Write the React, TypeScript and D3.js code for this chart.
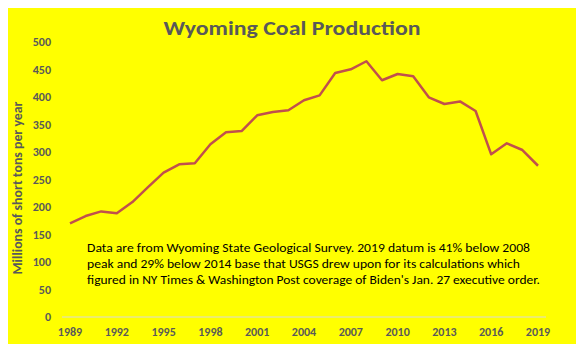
import React, { useEffect, useRef } from 'react'
import * as d3 from 'd3'

const years = d3.range(1989, 2020)
const production = [
  170.4, 183.6, 192, 188.5, 209, 236, 262.4, 277.6, 279.4, 314, 335.8, 338, 366.7, 372.7, 375.8,
  394, 403, 443.6, 450.3, 465, 430.4, 441.8, 437.6, 399.4, 387.3, 392, 374.5, 295.8, 315.8, 303.6,
  275,
]
const yTicks = [0, 50, 100, 150, 200, 250, 300, 350, 400, 450, 500]
const xTicks = [1989, 1992, 1995, 1998, 2001, 2004, 2007, 2010, 2013, 2016, 2019]
const note = [
  'Data are from Wyoming State Geological Survey. 2019 datum is 41% below 2008',
  'peak and 29% below 2014 base that USGS drew upon for its calculations which',
  "figured in NY Times & Washington Post coverage of Biden's Jan. 27 executive order.",
]
const noteWidths = [443, 433, 453]

const App = () => {
  const ref = useRef(null)

  useEffect(() => {
    const width = 584
    const height = 352
    const svg = d3.select(ref.current).attr('width', width).attr('height', height)
    svg.selectAll('*').remove()

    svg.append('rect').attr('width', width).attr('height', height).attr('fill', '#ffff00')

    const x = d3.scaleLinear().domain([1989, 2019]).range([70, 538])
    const y = d3.scaleLinear().domain([0, 500]).range([317, 42])
    const font = 'Calibri, Carlito, "Open Sans", sans-serif'

    // title
    svg
      .append('text')
      .attr('x', 292)
      .attr('y', 35)
      .attr('text-anchor', 'middle')
      .attr('font-family', font)
      .attr('font-weight', 'bold')
      .attr('font-size', 20)
      .attr('fill', '#595959')
      .attr('textLength', 257)
      .attr('lengthAdjust', 'spacingAndGlyphs')
      .text('Wyoming Coal Production')

    // y axis labels
    svg
      .append('g')
      .selectAll('text')
      .data(yTicks)
      .enter()
      .append('text')
      .attr('x', 51)
      .attr('y', (d) => y(d) + 4)
      .attr('text-anchor', 'end')
      .attr('font-family', font)
      .attr('font-weight', 'bold')
      .attr('font-size', 12)
      .attr('fill', '#595959')
      .text((d) => d)

    svg
      .append('text')
      .attr('transform', `translate(22,188) rotate(-90)`)
      .attr('text-anchor', 'middle')
      .attr('font-family', font)
      .attr('font-weight', 'bold')
      .attr('font-size', 13)
      .attr('fill', '#595959')
      .attr('textLength', 173)
      .attr('lengthAdjust', 'spacingAndGlyphs')
      .text('Millions of short tons per year')

    // baseline
    svg
      .append('line')
      .attr('x1', 62)
      .attr('x2', 546)
      .attr('y1', y(0))
      .attr('y2', y(0))
      .attr('stroke', '#d9d9d9')
      .attr('stroke-width', 1)

    // x axis labels
    svg
      .append('g')
      .selectAll('text')
      .data(xTicks)
      .enter()
      .append('text')
      .attr('x', (d) => x(d))
      .attr('y', 336)
      .attr('text-anchor', 'middle')
      .attr('font-family', font)
      .attr('font-weight', 'bold')
      .attr('font-size', 12)
      .attr('fill', '#595959')
      .text((d) => d)

    // line
    const line = d3
      .line<number>()
      .x((d, i) => x(years[i]))
      .y((d) => y(d))
    svg
      .append('path')
      .datum(production)
      .attr('d', line)
      .attr('fill', 'none')
      .attr('stroke', '#c0504d')
      .attr('stroke-width', 2.5)
      .attr('stroke-linejoin', 'round')

    // note
    svg
      .append('g')
      .selectAll('text')
      .data(note)
      .enter()
      .append('text')
      .attr('x', 87)
      .attr('y', (d, i) => 252 + i * 16)
      .attr('font-family', font)
      .attr('font-size', 13)
      .attr('fill', '#000')
      .attr('textLength', (d, i) => noteWidths[i])
      .attr('lengthAdjust', 'spacingAndGlyphs')
      .text((d) => d)
  }, [])

  return (
    <div style={{ margin: -8 }}>
      <svg ref={ref} style={{ display: 'block' }}></svg>
    </div>
  )
}

export default App
